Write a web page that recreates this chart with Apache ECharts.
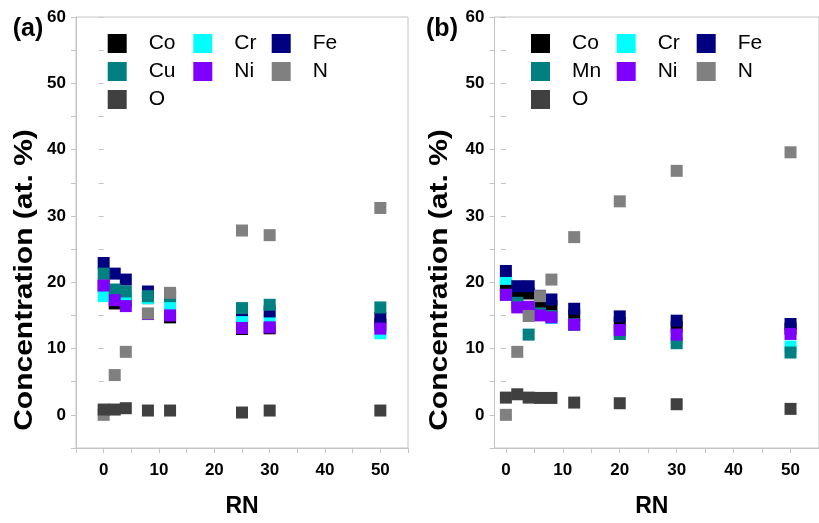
<!DOCTYPE html>
<html>
<head>
<meta charset="utf-8">
<script src="https://cdn.jsdelivr.net/npm/echarts@6/dist/echarts.min.js"></script>
<style>
  html, body { margin: 0; padding: 0; background: #fff; }
  #chart { width: 819px; height: 523px; }
</style>
</head>
<body>
<div id="chart"></div>
<script>
// RN values for each panel
const rnA = [0, 2, 4, 8, 12, 25, 30, 50];
const rnB = [0, 2, 4, 6, 8, 12, 20, 30, 50];

// Panel (a): concentrations in at. %
const coA = [19.5, 16.8, 17.2, 17.6, 14.7, 12.95, 13.05, 13.6];
const crA = [17.9, 17.9, 17.7, 17.6, 16.3, 14.5, 14.4, 12.3];
const feA = [22.9, 21.3, 20.4, 18.6, 18.1, 15.8, 15.6, 14.6];
const cuA = [21.3, 18.9, 18.6, 17.9, 17.9, 16.1, 16.6, 16.2];
const niA = [19.5, 17.3, 16.4, 15.2, 15.0, 13.1, 13.2, 13.0];
const nA  = [0.0, 6.0, 9.5, 15.3, 18.4, 27.8, 27.1, 31.2];
const oA  = [0.8, 0.8, 1.0, 0.65, 0.65, 0.35, 0.65, 0.65];

// Panel (b): concentrations in at. %
const coB = [19.5, 18.5, 18.3, 16.7, 16.4, 15.0, 13.9, 13.3, 13.0];
const crB = [20.5, 16.5, 16.0, 15.2, 14.6, 13.6, 12.5, 11.6, 10.3];
const feB = [21.7, 19.4, 19.4, 17.95, 17.4, 16.0, 14.85, 14.2, 13.7];
const mnB = [18.1, 16.9, 12.1, 15.3, 14.9, 13.6, 12.2, 10.8, 9.4];
const niB = [18.1, 16.2, 16.3, 15.0, 14.7, 13.6, 12.8, 12.1, 12.2];
const nB  = [0.0, 9.5, 14.9, 17.9, 20.4, 26.8, 32.2, 36.8, 39.6];
const oB  = [2.6, 3.1, 2.6, 2.55, 2.55, 1.85, 1.75, 1.6, 0.9];

// Tick positions and labels
const xTicks = [-5, 0, 5, 10, 15, 20, 25, 30, 35, 40, 45, 50, 55];
const xLabels = [0, 10, 20, 30, 40, 50];
const yTicks = [-5, 0, 5, 10, 15, 20, 25, 30, 35, 40, 45, 50, 55, 60];
const yLabels = [0, 10, 20, 30, 40, 50, 60];

const COLORS = {
  Co: '#000000', Cr: '#00ffff', Fe: '#000080', Cu: '#008080',
  Mn: '#008080', Ni: '#8000ff', N: '#808080', O: '#404040'
};

const FONT = '"Liberation Sans", Arial, Helvetica, sans-serif';
const AXIS_GRAY = '#c4c4c4';

function pairs(xs, ys) {
  return xs.map((x, i) => [x, ys[i]]);
}

function scatter(name, xs, ys, axisIdx, yIdx) {
  return {
    type: 'scatter',
    name: name,
    xAxisIndex: axisIdx,
    yAxisIndex: yIdx,
    symbol: 'rect',
    symbolSize: 12,
    itemStyle: { color: COLORS[name], opacity: 1 },
    emphasis: { disabled: true },
    data: pairs(xs, ys)
  };
}

function xAxisFor(gridIndex, min) {
  return {
    type: 'value', gridIndex: gridIndex, min: min, max: 55,
    axisLine: { show: true, onZero: false, lineStyle: { color: AXIS_GRAY, width: 1 } },
    axisTick: { show: true, inside: false, length: 5, customValues: xTicks,
                lineStyle: { color: AXIS_GRAY } },
    axisLabel: { customValues: xLabels, fontSize: 17, fontWeight: 'bold',
                 fontFamily: FONT, color: '#000', margin: 14 },
    splitLine: { show: false },
    name: 'RN', nameLocation: 'middle', nameGap: 47,
    nameTextStyle: { fontSize: 23, fontWeight: 'bold', fontFamily: FONT, color: '#000',
                     padding: gridIndex === 1 ? [0, 10, 0, 0] : 0 }
  };
}

function yAxisLeft(gridIndex) {
  return {
    type: 'value', gridIndex: gridIndex, min: -5, max: 60, position: 'left',
    axisLine: { show: true, onZero: false, lineStyle: { color: AXIS_GRAY, width: 1 } },
    axisTick: { show: true, inside: false, length: 5, customValues: yTicks,
                lineStyle: { color: AXIS_GRAY } },
    axisLabel: { customValues: yLabels, fontSize: 17, fontWeight: 'bold',
                 fontFamily: FONT, color: '#000', margin: 10 },
    splitLine: { show: false }
  };
}

function yAxisRight(gridIndex) {
  return {
    type: 'value', gridIndex: gridIndex, min: -5, max: 60, position: 'right',
    axisLine: { show: false },
    axisTick: { show: true, inside: true, length: 5, customValues: yTicks,
                lineStyle: { color: AXIS_GRAY } },
    axisLabel: { show: false },
    splitLine: { show: false }
  };
}

function legendCol(left, names) {
  return {
    orient: 'vertical', left: left, top: 33, padding: 0,
    itemWidth: 19, itemHeight: 19, itemGap: 7,
    icon: 'rect', selectedMode: false,
    data: names,
    textStyle: { fontSize: 21, fontFamily: FONT, color: '#000',
                 padding: [0, 0, 0, 17], lineHeight: 19 }
  };
}

function axisTitle(x) {
  return {
    type: 'text', x: x, y: 280, rotation: Math.PI / 2, scaleX: 1.2,
    style: {
      text: 'Concentration (at. %)',
      font: 'bold 25px ' + FONT,
      fill: '#000', align: 'center', verticalAlign: 'middle'
    }
  };
}

function panelTag(x, text) {
  return {
    type: 'text', x: x, y: 29,
    style: { text: text, font: 'bold 25px ' + FONT, fill: '#000',
             align: 'center', verticalAlign: 'middle' }
  };
}

const option = {
  animation: false,
  backgroundColor: '#ffffff',
  grid: [
    { left: 76, top: 17, width: 332, height: 441, show: true,
      borderColor: AXIS_GRAY, borderWidth: 1, backgroundColor: 'transparent' },
    { left: 494.5, top: 17, width: 332, height: 441, show: true,
      borderColor: AXIS_GRAY, borderWidth: 1, backgroundColor: 'transparent' }
  ],
  xAxis: [xAxisFor(0, -5), xAxisFor(1, -2)],
  yAxis: [yAxisLeft(0), yAxisRight(0), yAxisLeft(1), yAxisRight(1)],
  legend: [
    legendCol(107.7, ['Co', 'Cu', 'O']),
    legendCol(193.3, ['Cr', 'Ni']),
    legendCol(271.7, ['Fe', 'N']),
    legendCol(531, ['Co', 'Mn', 'O']),
    legendCol(616.7, ['Cr', 'Ni']),
    legendCol(696.7, ['Fe', 'N'])
  ],
  graphic: [
    axisTitle(25),
    axisTitle(440),
    panelTag(28, '(a)'),
    panelTag(442, '(b)')
  ],
  series: [
    scatter('Co', rnA, coA, 0, 0),
    scatter('Cr', rnA, crA, 0, 0),
    scatter('Fe', rnA, feA, 0, 0),
    scatter('Cu', rnA, cuA, 0, 0),
    scatter('Ni', rnA, niA, 0, 0),
    scatter('N',  rnA, nA,  0, 0),
    scatter('O',  rnA, oA,  0, 0),
    scatter('Co', rnB, coB, 1, 2),
    scatter('Cr', rnB, crB, 1, 2),
    scatter('Fe', rnB, feB, 1, 2),
    scatter('Mn', rnB, mnB, 1, 2),
    scatter('Ni', rnB, niB, 1, 2),
    scatter('N',  rnB, nB,  1, 2),
    scatter('O',  rnB, oB,  1, 2)
  ]
};

const chart = echarts.init(document.getElementById('chart'), null, { renderer: 'canvas' });
chart.setOption(option);
</script>
</body>
</html>
